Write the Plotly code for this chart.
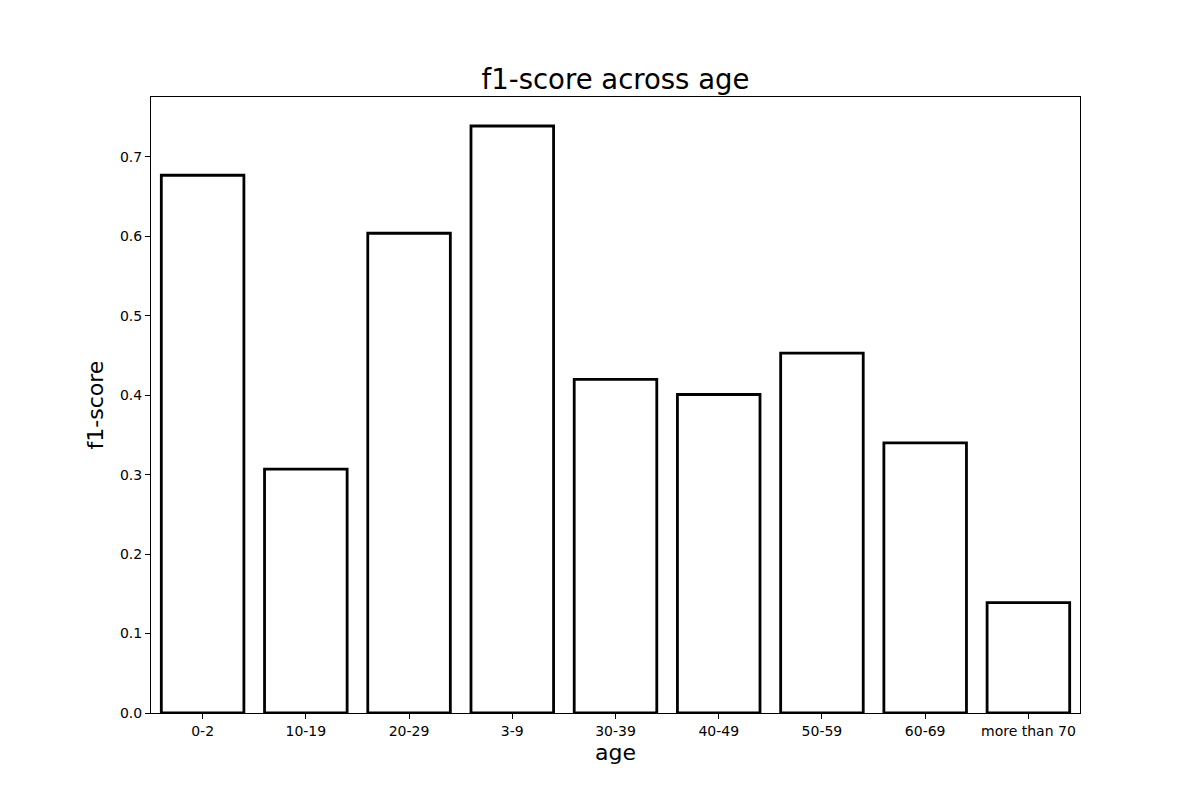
import plotly.graph_objects as go

age_groups = ['0-2', '10-19', '20-29', '3-9', '30-39', '40-49', '50-59', '60-69', 'more than 70']
f1_scores = [0.677, 0.307, 0.604, 0.739, 0.420, 0.401, 0.453, 0.340, 0.139]
y_ticks = [0.0, 0.1, 0.2, 0.3, 0.4, 0.5, 0.6, 0.7]

fig = go.Figure()
fig.add_trace(go.Bar(
    x=age_groups,
    y=f1_scores,
    width=0.8,
    marker=dict(color='white', line=dict(color='black', width=2.8)),
))

axis_style = dict(
    showline=True, linecolor='black', linewidth=1, mirror=True,
    ticks='outside', ticklen=5, tickwidth=1, tickcolor='black',
    showgrid=False, zeroline=False,
    tickfont=dict(size=14, color='black'),
)

fig.update_layout(
    width=1200, height=800,
    margin=dict(l=143, r=128, t=89, b=95),
    plot_bgcolor='white', paper_bgcolor='white',
    font=dict(family='DejaVu Sans', color='black'),
    title=dict(text='f1-score across age', xref='paper', x=0.5, xanchor='center',
               y=1 - 71 / 800, yanchor='middle', font=dict(size=27.5)),
    xaxis=dict(range=[-0.5, 8.5], title=dict(text='age', font=dict(size=22), standoff=6), **axis_style),
    yaxis=dict(range=[0, 0.7755], tickvals=y_ticks, tickformat='.1f',
               title=dict(text='f1-score', font=dict(size=22), standoff=10), **axis_style),
    showlegend=False,
)

fig.write_html("out.html")
